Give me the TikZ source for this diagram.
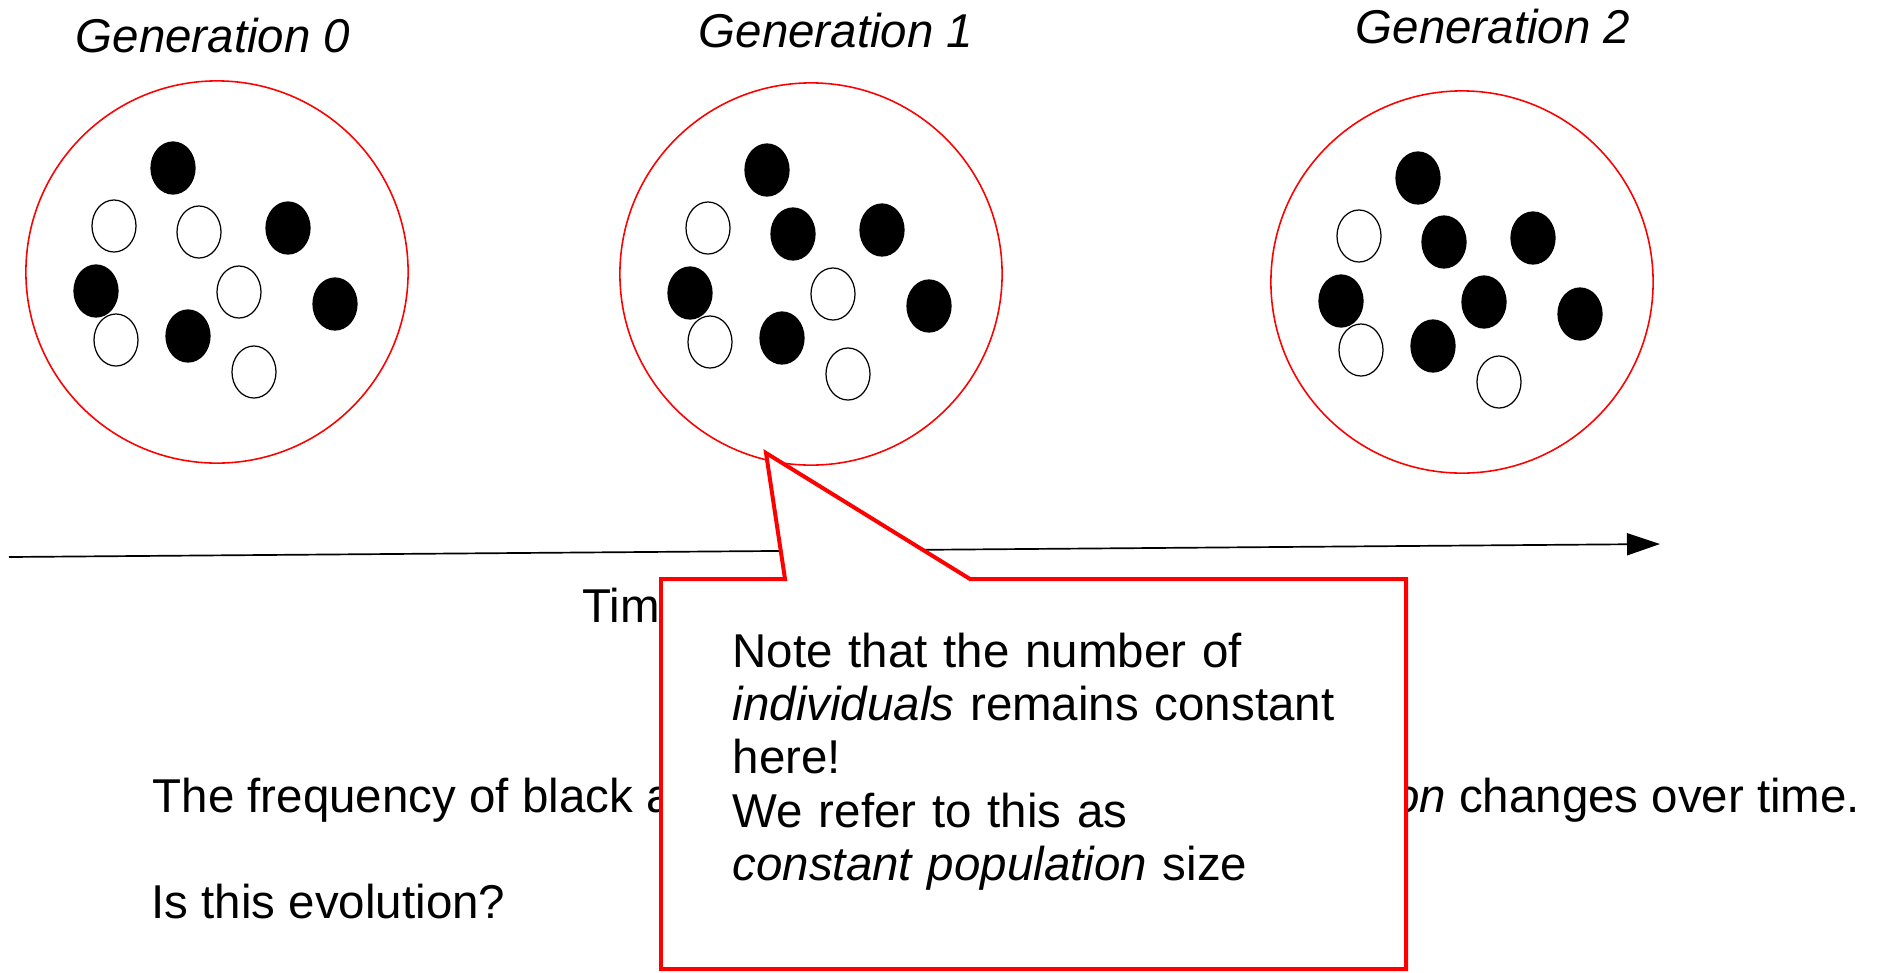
\documentclass[tikz,border=0pt]{standalone}
\usepackage{fontspec}
\setmainfont{Liberation Sans}
\usetikzlibrary{shapes.geometric,arrows.meta,calc}

\tikzset{
	population/.style={circle, draw=red, line width=0.45pt, minimum size=3.82cm, inner sep=0pt},
	individual/.style={ellipse, draw=black, line width=0.35pt, minimum width=0.44cm, minimum height=0.52cm, inner sep=0pt},
	slidetext/.style={font=\fontsize{13.5pt}{15.2pt}\selectfont, inner sep=0pt, anchor=base west},
	gentitle/.style={font=\fontsize{13.5pt}{15.2pt}\selectfont\itshape, inner sep=0pt, anchor=base},
	callout/.style={draw=red, fill=white, line width=1.13pt},
	timeline/.style={-{Triangle[length=0.33cm, width=0.22cm]}, line width=0.48pt}
}

\begin{document}
\begin{tikzpicture}[x=0.01cm, y=-0.01cm]
	\useasboundingbox (0,0) rectangle (1894,972);

	\node[population] (pop0) at (217,272) {};
	\node[population] (pop1) at (811,274) {};
	\node[population] (pop2) at (1462,282) {};

	\node[gentitle] (gen0) at (213,52) {Generation 0};
	\node[gentitle] (gen1) at (836,47) {Generation 1};
	\node[gentitle] (gen2) at (1493,43) {Generation 2};

	\foreach \dx/\dy/\ca/\cb/\cc [count=\i] in {
	-44/-104/black/black/black,
	-103/-46/white/white/white,
	-18/-40/white/black/black,
	71/-44/black/black/black,
	-121/19/black/black/black,
	22/20/white/white/black,
	118/32/black/black/black,
	-101/68/white/white/white,
	-29/64/black/black/black,
	37/100/white/white/white}
	{
		\node[individual, fill=\ca] (a\i) at ($(pop0)+(\dx,\dy)$) {};
		\node[individual, fill=\cb] (b\i) at ($(pop1)+(\dx,\dy)$) {};
		\node[individual, fill=\cc] (c\i) at ($(pop2)+(\dx,\dy)$) {};
	};

	\coordinate (t0) at (9,557);
	\coordinate (t1) at (1660,544);
	\draw[timeline] (t0) -- (t1);
	\node[slidetext] (time) at (582,622) {Time};

	\node[slidetext] (freq) at (152,812) {The frequency of black and white individuals in the \textit{population} changes over time.};
	\node[slidetext] (question) at (151,918) {Is this evolution?};

	\coordinate (tip) at (766,453);
	\draw[callout] (661,579) -- (785,579) -- (tip) -- (970,579) -- (1406,579) -- (1406,969) -- (661,969) -- cycle;
	\node[slidetext, text width=6.6cm, align=left] (note) at (732,667) {Note that the number of\\ \textit{individuals} remains constant\\ here!\\ We refer to this as\\ \textit{constant population} size};
\end{tikzpicture}
\end{document}
